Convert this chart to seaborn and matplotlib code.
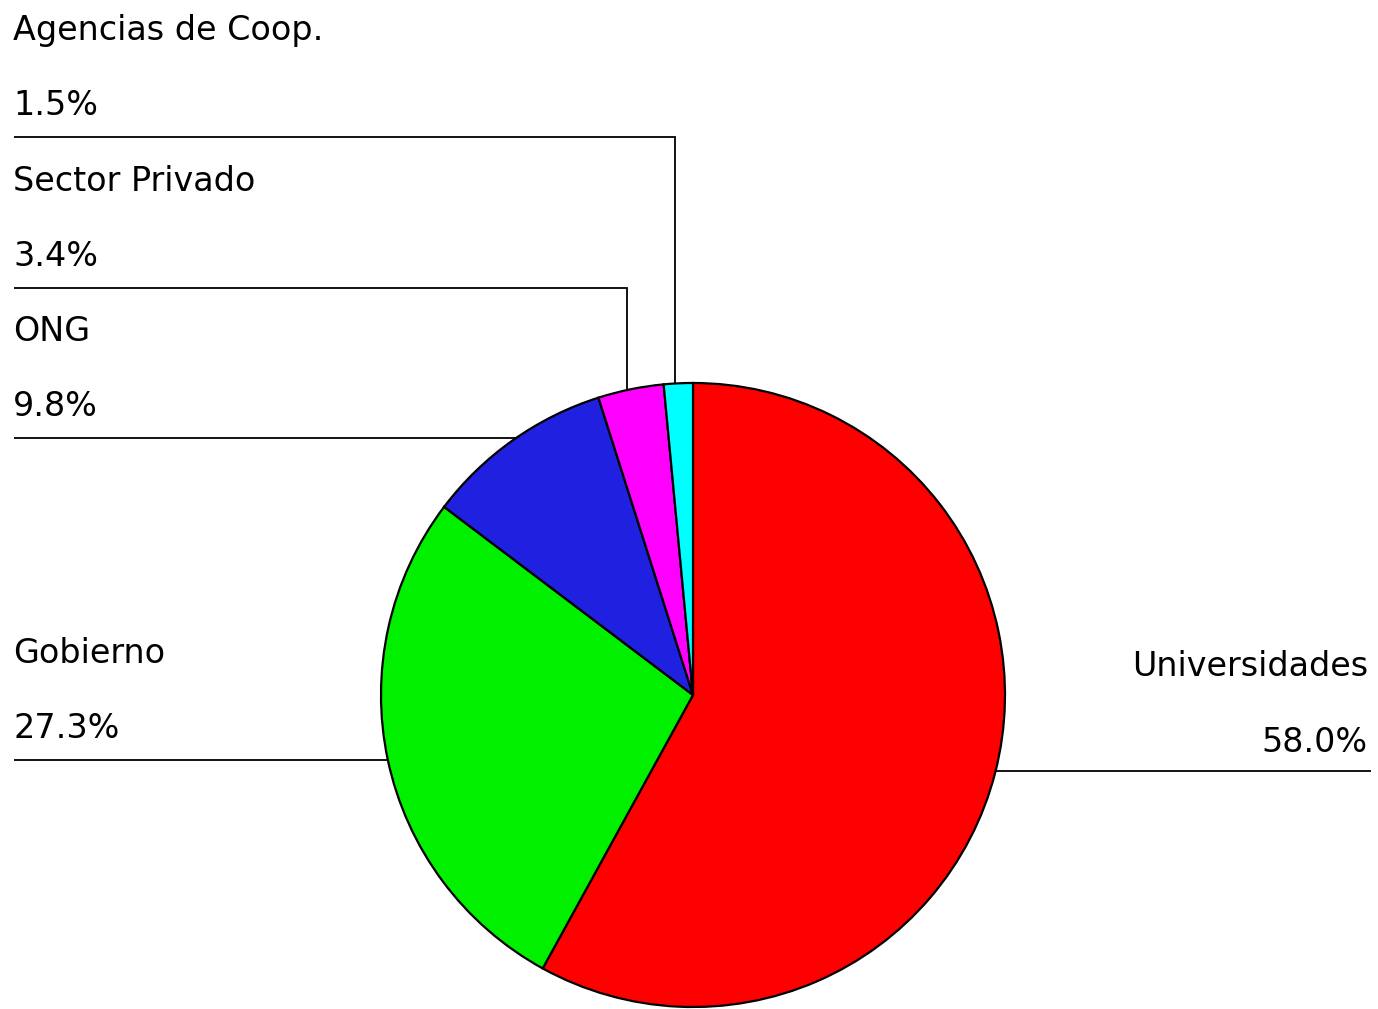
import numpy as np
import matplotlib
matplotlib.use("Agg")
import matplotlib.pyplot as plt
import seaborn as sns

# Distribución por tipo de institución
categorias = ["Universidades", "Gobierno", "ONG", "Sector Privado", "Agencias de Coop."]
porcentajes = [58.0, 27.3, 9.8, 3.4, 1.5]
colores = ["#FF0000", "#00F000", "#2020E0", "#FF00FF", "#00FFFF"]

sns.set_theme(style="white")
plt.rcParams["font.family"] = ["DejaVu Sans"]

W, H = 1378, 1009
fig = plt.figure(figsize=(W / 100, H / 100), dpi=100)
ax = fig.add_axes([0, 0, 1, 1])

# Pie geometry in pixel-like data units (y measured upward)
cx, cy, r = 693, H - 695, 312

ax.pie(porcentajes, colors=colores, startangle=90, counterclock=False,
       center=(cx, cy), radius=r,
       wedgeprops=dict(edgecolor="black", linewidth=1.6))

ax.set_xlim(0, W)
ax.set_ylim(0, H)
ax.set_aspect("equal")
ax.axis("off")

fs = 24
lw = 1.3

def circle_x(y, side):
    dy = y - cy
    return cx + side * np.sqrt(r ** 2 - dy ** 2)

def circle_y_top(x):
    dx = x - cx
    return cy + np.sqrt(r ** 2 - dx ** 2)

# Leader layout: (line height from top, kind, vertical drop x)
guias = {
    "Universidades": (771, "right", None),
    "Gobierno": (760, "left", None),
    "ONG": (438, "left", None),
    "Sector Privado": (288, "elbow", 627),
    "Agencias de Coop.": (137, "elbow", 675),
}

for cat, val in zip(categorias, porcentajes):
    ly_px, kind, xdrop = guias[cat]
    ly = H - ly_px
    etiqueta = f"{val:.1f}%"
    if kind == "right":
        x0 = circle_x(ly, +1)
        ax.plot([x0, 1371], [ly, ly], color="black", lw=lw, solid_capstyle="butt")
        ax.text(1368, ly + 95, cat, ha="right", va="baseline", fontsize=fs, color="black")
        ax.text(1368, ly + 19, etiqueta, ha="right", va="baseline", fontsize=fs, color="black")
    else:
        if kind == "left":
            x1 = circle_x(ly, -1)
            ax.plot([14, x1], [ly, ly], color="black", lw=lw, solid_capstyle="butt")
        else:
            y1 = circle_y_top(xdrop)
            ax.plot([14, xdrop, xdrop], [ly, ly, y1], color="black", lw=lw,
                    solid_capstyle="butt", solid_joinstyle="miter")
        ax.text(13, ly + 97, cat, ha="left", va="baseline", fontsize=fs, color="black")
        ax.text(13, ly + 22, etiqueta, ha="left", va="baseline", fontsize=fs, color="black")

fig.savefig("out.png", dpi=100, facecolor="white")
